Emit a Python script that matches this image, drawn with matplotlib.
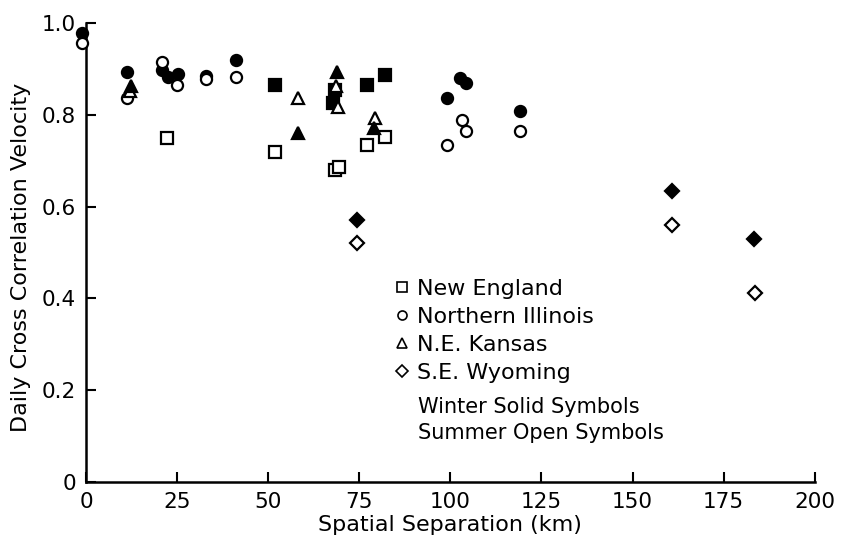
import matplotlib
matplotlib.use("Agg")
from matplotlib import pyplot as plt
from matplotlib.lines import Line2D

# New England (squares)
ne_win_x = [51.9, 68.3, 67.9, 77.0, 82.0]
ne_win_y = [0.866, 0.855, 0.825, 0.866, 0.886]
ne_sum_x = [22.1, 51.9, 68.3, 69.5, 77.0, 82.0]
ne_sum_y = [0.749, 0.720, 0.680, 0.687, 0.734, 0.752]

# Northern Illinois (circles)
ni_win_x = [-1.0, 11.2, 20.8, 22.6, 25.3, 33.0, 41.2, 99.2, 102.6, 104.3, 119.1]
ni_win_y = [0.978, 0.894, 0.898, 0.883, 0.890, 0.885, 0.919, 0.836, 0.880, 0.869, 0.809]
ni_sum_x = [-1.0, 11.2, 21.0, 24.9, 33.0, 41.2, 99.2, 103.1, 104.3, 119.2]
ni_sum_y = [0.957, 0.836, 0.916, 0.865, 0.879, 0.882, 0.734, 0.789, 0.765, 0.765]

# N.E. Kansas (triangles)
ks_win_x = [12.3, 58.3, 68.8, 79.0]
ks_win_y = [0.863, 0.760, 0.894, 0.771]
ks_sum_x = [12.0, 58.3, 68.5, 69.2, 79.3]
ks_sum_y = [0.852, 0.836, 0.862, 0.818, 0.792]

# S.E. Wyoming (diamonds)
wy_win_x = [74.4, 160.7, 183.4]
wy_win_y = [0.570, 0.634, 0.529]
wy_sum_x = [74.4, 160.9, 183.6]
wy_sum_y = [0.520, 0.559, 0.411]

regions = ["New England", "Northern Illinois", "N.E. Kansas", "S.E. Wyoming"]
x_ticks = [0, 25, 50, 75, 100, 125, 150, 175, 200]
y_ticks = [0, 0.2, 0.4, 0.6, 0.8, 1.0]
y_ticklabels = ["0", "0.2", "0.4", "0.6", "0.8", "1.0"]

plt.rcParams['font.family'] = ['DejaVu Sans']

fig = plt.figure(figsize=(8.47, 5.43), dpi=100)
ax = fig.add_axes([0.1015, 0.1123, 0.8605, 0.8453])

series = [
    (ne_sum_x, ne_sum_y, "s", 8, False), (ne_win_x, ne_win_y, "s", 8, True),
    (ni_win_x, ni_win_y, "o", 8, True), (ni_sum_x, ni_sum_y, "o", 8, False),
    (ks_sum_x, ks_sum_y, "^", 9, False), (ks_win_x, ks_win_y, "^", 9, True),
    (wy_win_x, wy_win_y, "D", 7, True), (wy_sum_x, wy_sum_y, "D", 7, False),
]
for xs, ys, m, ms, solid in series:
    ax.plot(xs, ys, linestyle="none", marker=m, markersize=ms,
            markerfacecolor="black" if solid else "white",
            markeredgecolor="black", markeredgewidth=1.6, clip_on=False, zorder=3)

ax.set_xlim(0, 200)
ax.set_ylim(0, 1.0)
ax.set_xticks(x_ticks)
ax.set_yticks(y_ticks)
ax.set_yticklabels(y_ticklabels)
for s in ["top", "right"]:
    ax.spines[s].set_visible(False)
for s in ["left", "bottom"]:
    ax.spines[s].set_linewidth(1.8)
ax.tick_params(direction="in", length=7, width=1.5, labelsize=15.5, pad=7)

ax.set_xlabel("Spatial Separation (km)", fontsize=16)
ax.set_ylabel("Daily Cross Correlation Velocity", fontsize=16)
ax.xaxis.set_label_coords(0.5, -0.072)
ax.yaxis.set_label_coords(-0.075, 0.49)

handles = [Line2D([], [], linestyle="none", marker=m, markersize=ms,
                  markerfacecolor="white", markeredgecolor="black", markeredgewidth=1.2)
           for m, ms in zip(["s", "o", "^", "D"], [6.5, 6.5, 7.5, 6])]
ax.legend(handles, regions, loc="upper left", bbox_to_anchor=(0.421, 0.443),
          frameon=False, fontsize=16, handlelength=0.8, handletextpad=0.28,
          labelspacing=0.36, borderpad=0, borderaxespad=0)

ax.text(0.455, 0.163, "Winter Solid Symbols", transform=ax.transAxes,
        fontsize=15, va="center", ha="left")
ax.text(0.455, 0.107, "Summer Open Symbols", transform=ax.transAxes,
        fontsize=15, va="center", ha="left")

fig.savefig("out.png", dpi=100)
